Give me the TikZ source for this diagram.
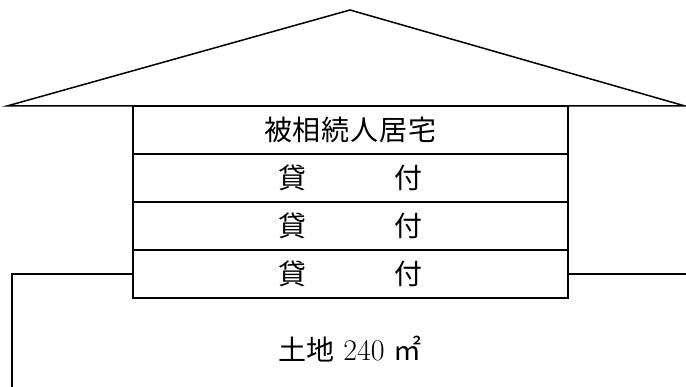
\documentclass[tikz,border=0pt]{standalone}
\usepackage{fontspec}
\newfontfamily\cjk{Noto Sans CJK JP}
\newcommand{\gp}{\kern1pt}
\begin{document}
\begin{tikzpicture}[x=1pt,y=-1pt,line width=1.5pt,
  rowbox/.style={draw,minimum width=435pt,minimum height=48pt,inner sep=0pt,outer sep=0pt,
    font=\cjk\fontsize{28}{28}\selectfont},
  landlbl/.style={inner sep=0pt,font=\fontsize{30}{30}\selectfont}]
\useasboundingbox (0,0) rectangle (686,387);
\coordinate (apex) at (350,10);
\coordinate (eL) at (7,106);
\coordinate (eR) at (685,106);
\draw[line join=miter] (eL) -- (apex) -- (eR) -- cycle;
\node[rowbox] (r1) at (350.5,130) {被\gp 相\gp 続\gp 人\gp 居\gp 宅};
\node[rowbox] (r2) at (350.5,178) {貸\hspace{88pt}付};
\node[rowbox] (r3) at (350.5,226) {貸\hspace{88pt}付};
\node[rowbox] (r4) at (350.5,274) {貸\hspace{88pt}付};
\coordinate (gl) at (12,274);
\coordinate (glb) at (12,388);
\coordinate (gr) at (687,274);
\draw[line join=miter] (r4.west) -- (gl) -- (glb);
\draw (r4.east) -- (gr);
\node[landlbl] (land) at (350,349) {{\cjk\fontsize{28}{28}\selectfont 土地}\ 240 {\cjk\fontsize{28}{28}\selectfont ㎡}};
\end{tikzpicture}
\end{document}
